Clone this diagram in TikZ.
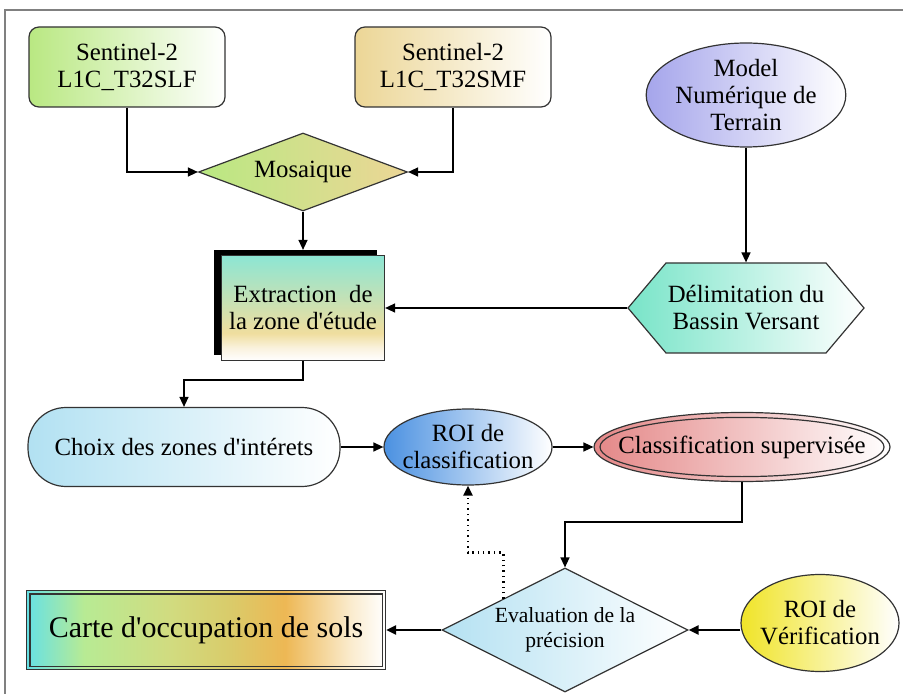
\documentclass[tikz,border=0pt]{standalone}
\usepackage{fontspec}
\setmainfont{Liberation Serif}
\usetikzlibrary{arrows.meta,shapes.geometric,shadows}

\definecolor{slfgreen}{RGB}{185,232,130}
\definecolor{smftan}{RGB}{236,214,150}
\definecolor{mntblue}{RGB}{165,165,235}
\definecolor{bvaqua}{RGB}{120,228,200}
\definecolor{choixblue}{RGB}{178,225,242}
\definecolor{roiblue}{RGB}{75,145,225}
\definecolor{supred}{RGB}{228,135,135}
\definecolor{evalblue}{RGB}{180,225,242}
\definecolor{verifyellow}{RGB}{240,228,40}
\definecolor{framegray}{RGB}{128,128,128}

\pgfdeclareverticalshading{extrshade}{100bp}{rgb(0bp)=(1,1,1); rgb(25bp)=(1,1,1);
  rgb(31bp)=(0.98,0.95,0.87); rgb(38bp)=(0.94,0.87,0.62); rgb(75bp)=(0.55,0.90,0.83);
  rgb(100bp)=(0.55,0.90,0.83)}
\pgfdeclarehorizontalshading{carteshade}{100bp}{rgb(0bp)=(0.40,0.88,0.90);
  rgb(25bp)=(0.40,0.88,0.90); rgb(33bp)=(0.72,0.92,0.58); rgb(45bp)=(0.82,0.86,0.50);
  rgb(53bp)=(0.85,0.80,0.42); rgb(61bp)=(0.93,0.72,0.33); rgb(70bp)=(0.98,0.92,0.80);
  rgb(75bp)=(1,1,1); rgb(100bp)=(1,1,1)}

\newcommand{\apos}{\textquotesingle}

\begin{document}
\begin{tikzpicture}[x=0.5pt,y=-0.5pt,
  box/.style={draw=black!80, line width=0.6pt, align=center, inner sep=0pt,
    font=\fontsize{12.4}{13.5}\selectfont},
  arr/.style={-{Triangle[length=5pt,width=4.5pt]}, line width=0.7pt}]
\useasboundingbox (0,0) rectangle (903,694);
\draw[framegray, line width=1pt] (5,694) -- (5,10) -- (903,10);

\node[box, rounded corners=5pt, minimum width=98pt, minimum height=40pt,
  left color=slfgreen, right color=white] (slf) at (127,67) {Sentinel-2\\L1C\_T32SLF};
\node[box, rounded corners=5pt, minimum width=98pt, minimum height=40pt,
  left color=smftan, right color=white] (smf) at (453,67) {Sentinel-2\\L1C\_T32SMF};
\node[box, diamond, aspect=2.68, minimum width=104.5pt, minimum height=39pt,
  left color=slfgreen, right color=smftan] (mos) at (303,172) {Mosaique};
\node[box, ellipse, inner ysep=-1.5pt, minimum width=96.5pt, minimum height=52pt,
  left color=mntblue, right color=white] (mnt) at (746,95) {Model\\Numérique de\\Terrain};

\path[draw=black!80, line width=0.6pt, left color=bvaqua, right color=white]
  (628,308) -- (666,263) -- (826,263) -- (864,308) -- (826,353) -- (666,353) -- cycle;
\node[box, draw=none, minimum width=118pt, minimum height=45pt] (bv) at (746,308)
  {Délimitation du\\Bassin Versant};

\node[box, minimum width=81.5pt, minimum height=52.5pt, shading=extrshade,
  general shadow={fill=black, shadow xshift=-4pt, shadow yshift=2.5pt}] (extr) at (303,308)
  {Extraction~ de\\la zone d\apos étude};

\node[box, rounded corners=19pt, minimum width=156pt, minimum height=39.5pt,
  left color=choixblue, right color=white] (choix) at (184,447) {Choix des zones d\apos intérets};
\node[box, ellipse, inner xsep=-3pt, minimum width=83pt, minimum height=38pt,
  left color=roiblue, right color=white] (roic) at (468,447) {ROI de\\classification};
\node[box, ellipse, inner xsep=-11pt, minimum width=148pt, minimum height=34.5pt,
  left color=supred, right color=white] (csup) at (742,447) {Classification supervisée};
\draw[black!80, line width=0.6pt] (csup.center) ellipse [x radius=71pt, y radius=14.8pt];

\node[box, diamond, aspect=2, minimum width=123pt, minimum height=62pt, inner sep=-1pt,
  font=\fontsize{10.8}{12.5}\selectfont, left color=evalblue, right color=white] (eval) at (565,630)
  {Evaluation de la\\précision};
\node[box, minimum width=179.5pt, minimum height=39.5pt, shading=carteshade,
  font=\fontsize{15}{17}\selectfont] (carte) at (206,630) {Carte d\apos occupation de sols};
\draw[black!80, line width=0.6pt] ([shift={(2pt,2pt)}]carte.south west)
  rectangle ([shift={(-2pt,-2pt)}]carte.north east);
\node[box, ellipse, inner xsep=-2.5pt, minimum width=79pt, minimum height=48.5pt,
  left color=verifyellow, right color=white] (verif) at (820,623) {ROI de\\Vérification};

\draw[arr] (slf.south) |- (mos.west);
\draw[arr] (smf.south) |- (mos.east);
\draw[arr, shorten >=2.5pt] (mos.south) -- (extr.north);
\draw[arr] (mnt.south) -- (bv.north);
\draw[arr] (bv.west) -- (extr.east);
\draw[arr] (extr.south) -- ++(0,19) -| (choix.north);
\draw[arr] (choix.east) -- (roic.west);
\draw[arr] (roic.east) -- (csup.west);
\draw[arr] (csup.south) -- ++(0,40) -| (eval.north);
\draw[arr, dotted, line width=1.3pt] (eval.north west) -- ++(0,-46) -| (roic.south);
\draw[arr, line width=1.1pt] (eval.west) -- (carte.east);
\draw[arr, line width=1.1pt] (verif.west |- eval.east) -- (eval.east);
\end{tikzpicture}
\end{document}
